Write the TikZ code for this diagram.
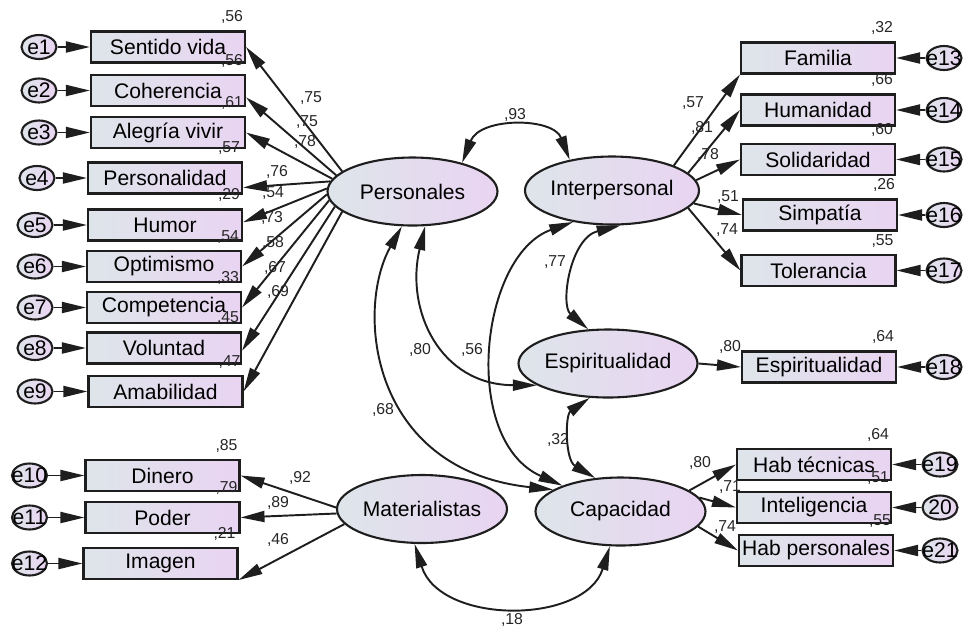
\documentclass[tikz,border=0pt]{standalone}
\usepackage{fontspec}
\setmainfont{Liberation Sans}
\usetikzlibrary{arrows.meta,shapes.geometric}

\definecolor{fillL}{RGB}{222,229,234}
\definecolor{fillR}{RGB}{233,212,242}
\definecolor{rim}{RGB}{30,30,30}

\tikzset{
  >={Triangle[length=0.48cm,width=0.22cm]},
  txt/.style={font=\fontsize{12}{14}\selectfont},
  obs/.style={txt,draw=rim,line width=1.2pt,left color=fillL,right color=fillR,
    minimum width=3.08cm,minimum height=0.62cm,inner sep=1pt},
  lat/.style={txt,ellipse,draw=rim,line width=1.2pt,left color=fillL,right color=fillR,
    minimum width=3.4cm,minimum height=1.36cm,inner sep=0pt},
  err/.style={ellipse,draw=rim,line width=1.2pt,left color=fillL,right color=fillR,
    minimum width=0.7cm,minimum height=0.48cm,inner sep=0pt},
  etxt/.style={txt,inner sep=0pt},
  coef/.style={font=\fontsize{9}{10}\selectfont,inner sep=0pt,text=black!85},
  r2/.style={coef,anchor=center,xshift=-0.28cm,yshift=0.26cm},
  load/.style={->,line width=1.1pt,draw=rim},
  covar/.style={<->,line width=1.1pt,draw=rim},
}

\begin{document}
\begin{tikzpicture}[x=0.02cm,y=-0.02cm]
  \useasboundingbox (0,0) rectangle (964,627);

  % Latent factors.
  \node[lat] (pers) at (412.5,191.5) {Personales};
  \node[lat] (inter) at (612,190.5) {Interpersonal};
  \node[lat] (esp) at (608,363.5) {Espiritualidad};
  \node[lat] (capa) at (620.5,511.5) {Capacidad};
  \node[lat] (mat) at (422,509) {Materialistas};

  % Observed indicators, R^2 sits above the right corner.
  \foreach \nm/\xx/\yy/\lbl/\rr in {
      sv/168/47/Sentido vida/{,56}, coh/168/90.5/Coherencia/{,56},
      ale/168/132.5/Alegría vivir/{,61}, per/165/178/Personalidad/{,57},
      hum/165/225/Humor/{,29}, opt/164/266.5/Optimismo/{,54},
      com/164/307.5/Competencia/{,33}, vol/164/348/Voluntad/{,45},
      ama/165.5/391.5/Amabilidad/{,47},
      din/162.5/475.5/Dinero/{,85}, pod/162.5/517.5/Poder/{,79},
      ima/160.5/563.5/Imagen/{,21},
      fam/818/58/Familia/{,32}, hmn/818/110/Humanidad/{,66},
      sol/818/159.5/Solidaridad/{,60}, sim/820/215/Simpatía/{,26},
      tol/818.5/270.5/Tolerancia/{,55}, esb/819/367/Espiritualidad/{,64},
      hte/814/464.5/Hab técnicas/{,64}, int/814/507.5/Inteligencia/{,51},
      hpe/816/550.5/Hab personales/{,55}}{
    \node[obs,label={[r2]north east:\rr}] (\nm) at (\xx,\yy) {\lbl};
  }

  % Error terms, left side then right side.
  \foreach \nm/\xx/\yy/\trg in {e1/39/47/sv, e2/39/90.5/coh, e3/39/132.5/ale,
      e4/37/178/per, e5/35/225/hum, e6/35/266.5/opt, e7/35/307.5/com,
      e8/35/348/vol, e9/35/391.5/ama, e10/29.5/475.5/din,
      e11/29.5/517.5/pod, e12/29.5/563.5/ima}{
    \node[err,label={[etxt]center:\nm}] (\nm) at (\xx,\yy) {};
    \draw[load] (\nm.east) -- (\trg.west);
  }
  \foreach \nm/\lbl/\xx/\yy/\trg in {e13/e13/944/58/fam, e14/e14/944/110/hmn,
      e15/e15/944/159.5/sol, e16/e16/944/215/sim, e17/e17/944/270.5/tol,
      e18/e18/944/367/esb, e19/e19/940/464.5/hte, e20/20/940/507.5/int,
      e21/e21/940/550.5/hpe}{
    \node[err,label={[etxt]center:\lbl}] (\nm) at (\xx,\yy) {};
    \draw[load] (\nm.west) -- (\trg.east);
  }

  % Factor loadings.
  \foreach \ang/\trg in {164/sv.east, 168/coh.-5, 171/ale.east, 173/per.-7,
      178/hum.2, 182/opt.east, 186/com.east, 191/vol.-2, 196/ama.east}
    \draw[load] (pers.\ang) -- (\trg);
  \foreach \ang/\trg in {179/din.east, 183/pod.east, 191/ima.south east}
    \draw[load] (mat.\ang) -- (\trg);
  \foreach \ang/\trg in {22/fam.south west, 13/hmn.west, 7/sol.west,
      -9/sim.west, -13/tol.west}
    \draw[load] (inter.\ang) -- (\trg);
  \foreach \ang/\trg in {17/hte.west, 10/int.west, -11/hpe.west}
    \draw[load] (capa.\ang) -- (\trg);
  \draw[load] (esp.east) -- (esb.west);

  % Correlations between factors.
  \draw[covar] (pers.30) .. controls (480,117) and (553,117) .. (inter.144);
  \draw[covar] (inter.284) .. controls (570,238) and (560,305) .. (esp.120);
  \draw[covar] (esp.242) .. controls (565,415) and (565,460) .. (capa.127);
  \draw[covar] (pers.290) .. controls (405,310) and (440,385) .. (esp.197);
  \draw[covar] (pers.253) .. controls (355,310) and (370,470) .. (capa.162);
  \draw[covar] (inter.219) .. controls (480,255) and (460,440) .. (capa.156);
  \draw[covar] (mat.258) .. controls (440,625) and (585,625) .. (capa.253);

  % Standardised estimates.
  \foreach \xx/\yy/\val [count=\i] in {
      311/98/{,75}, 307/122/{,75}, 305/142/{,78}, 277/172/{,76},
      273/193/{,54}, 272/218/{,73}, 273/243/{,58}, 275/268/{,67},
      278/292/{,69}, 300/478/{,92}, 278/503/{,89}, 278/540/{,46},
      693/103/{,57}, 702/128/{,81}, 708/155/{,78}, 728/197/{,51},
      727/230/{,74}, 730/347/{,80}, 700/463/{,80}, 730/487/{,71},
      725/527/{,74}, 515/115/{,93}, 555/262/{,77}, 558/440/{,32},
      420/350/{,80}, 472/350/{,56}, 383/410/{,68}, 512/620/{,18}}
    \node[coef] (k\i) at (\xx,\yy) {\val};
\end{tikzpicture}
\end{document}
